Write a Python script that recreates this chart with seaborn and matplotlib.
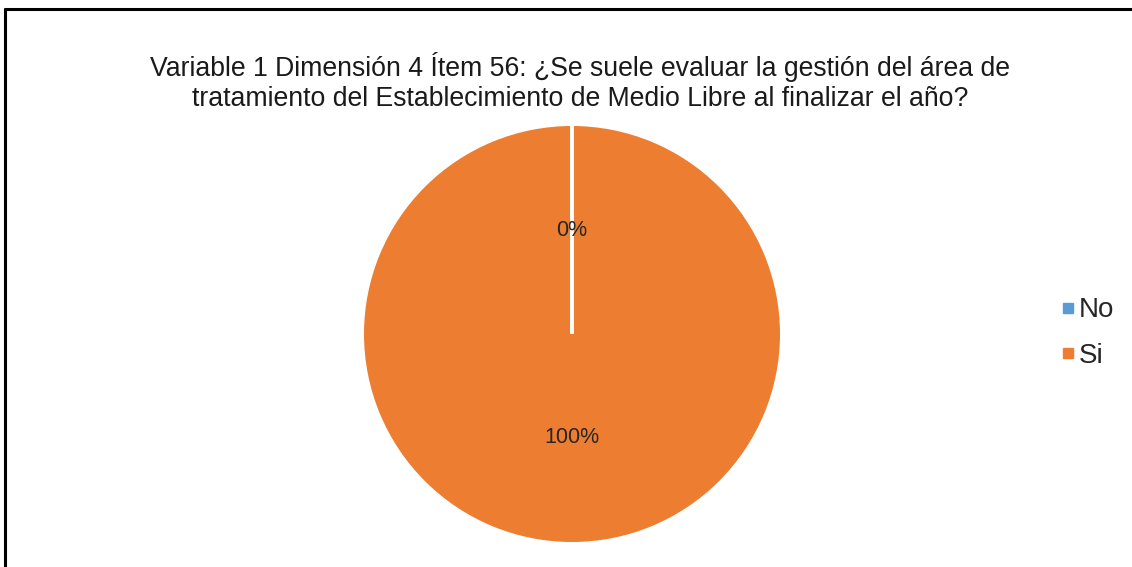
import matplotlib
matplotlib.use("Agg")
import matplotlib.pyplot as plt
from matplotlib.lines import Line2D
import numpy as np
import seaborn as sns

CATEGORIES = ["No", "Si"]
VALUES = [0, 100]
COLORS = ["#5B9BD5", "#ED7D31"]
TITLE = ("Variable 1 Dimensión 4 Ítem 56: ¿Se suele evaluar la gestión del área de\n"
         "tratamiento del Establecimiento de Medio Libre al finalizar el año?")

sns.set_theme(style="white")
plt.rcParams["font.family"] = ["Liberation Sans", "DejaVu Sans"]

W, H = 1132, 567
fig = plt.figure(figsize=(W / 100, H / 100), dpi=100)

# frame (top and left edges visible in the reference)
fig.add_artist(Line2D([5 / W, 5 / W], [0, 1 - 9 / H], color="black", lw=2.2))
fig.add_artist(Line2D([5 / W, 1], [1 - 9 / H, 1 - 9 / H], color="black", lw=2.2))

cx, cy, r = 572, 334, 208
ax = fig.add_axes([(cx - r) / W, (H - cy - r) / H, 2 * r / W, 2 * r / H])
ax.pie(
    VALUES,
    colors=COLORS,
    startangle=90,
    counterclock=False,
    autopct="%1.0f%%",
    pctdistance=0.5,
    wedgeprops={"linewidth": 0},
    textprops={"fontsize": 15.5, "color": "#262626"},
)
# white separators at slice boundaries (zero-size slice still shows one)
bounds = 90 - 360 * np.cumsum([0] + VALUES[:-1]) / sum(VALUES)
for a in np.unique(bounds % 360):
    t = np.deg2rad(a)
    ax.plot([0, np.cos(t)], [0, np.sin(t)], color="white", lw=2.8,
            solid_capstyle="butt", zorder=2)
for txt in ax.texts:
    txt.set_zorder(5)
ax.set_xlim(-1, 1)
ax.set_ylim(-1, 1)
ax.set_aspect("equal")
ax.axis("off")

fig.text(580 / W, 1 - 82 / H, TITLE, ha="center", va="center",
         fontsize=19.2, color="#1a1a1a", linespacing=1.2)

handles = [Line2D([], [], marker="s", linestyle="", markersize=7,
                  markerfacecolor=c, markeredgecolor=c) for c in COLORS]
fig.legend(handles, CATEGORIES, loc="center left", bbox_to_anchor=(1043 / W, 1 - 333 / H),
           frameon=False, fontsize=20, handletextpad=0.0, labelspacing=0.7,
           handlelength=0.8, borderpad=0)

fig.savefig("out.png", dpi=100)
